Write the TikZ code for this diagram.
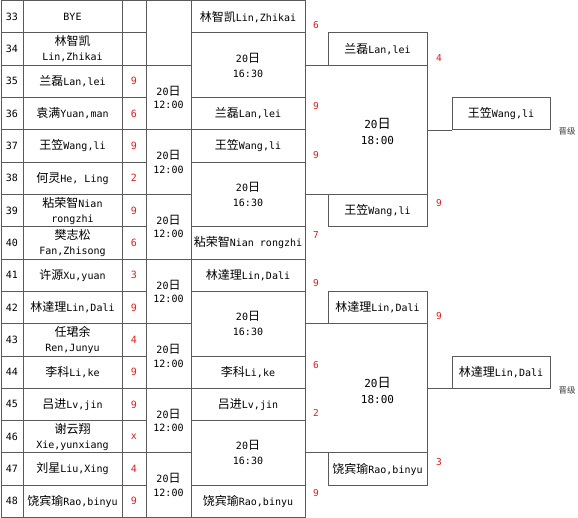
\documentclass[tikz,border=0pt]{standalone}
\usepackage{fontspec}
\setmainfont{DejaVu Sans Mono}
\newfontfamily\cjk[Scale=1.2]{Noto Sans CJK SC}
\definecolor{ln}{RGB}{90,90,90}
\definecolor{sc}{RGB}{220,30,30}
\newcommand{\nm}[2]{{\cjk #1}#2}
\newcommand{\dt}[1]{20{\cjk 日}\\#1}
% cell: name, x1, r1, x2, r2, extra style, text
\newcommand{\rc}[7]{%
  \node[cellbox,#6,minimum width={#4pt-#2pt},minimum height={(#5-#3)*32.3125pt}]
    (#1) at ({(#2+#4)/2},{-0.5-32.3125*(#3+#5)/2}) {#7};}
\tikzset{
  cellbox/.style={draw=ln,line width=0.8pt,inner sep=0pt,align=center,
    font=\fontsize{10}{15}\selectfont},
  datesm/.style={font=\fontsize{10}{13.5}\selectfont},
  scorered/.style={text=sc,inner sep=0pt,font=\fontsize{9.5}{11}\selectfont},
  bigtxt/.style={inner sep=0pt,align=center,font=\fontsize{11}{16}\selectfont},
  promo/.style={inner sep=0pt,text=black!75,font=\fontsize{7}{8}\selectfont},
  conn/.style={draw=ln,line width=0.8pt}
}
\begin{document}
\begin{tikzpicture}[x=1pt,y=1pt]
\useasboundingbox (0,0) rectangle (578,-518);
\fill[white] (0,0) rectangle (578,-518);
% ---- column 0: numbers ----
\rc{n33}{1}{0}{23}{1}{}{33}
\rc{n34}{1}{1}{23}{2}{}{34}
\rc{n35}{1}{2}{23}{3}{}{35}
\rc{n36}{1}{3}{23}{4}{}{36}
\rc{n37}{1}{4}{23}{5}{}{37}
\rc{n38}{1}{5}{23}{6}{}{38}
\rc{n39}{1}{6}{23}{7}{}{39}
\rc{n40}{1}{7}{23}{8}{}{40}
\rc{n41}{1}{8}{23}{9}{}{41}
\rc{n42}{1}{9}{23}{10}{}{42}
\rc{n43}{1}{10}{23}{11}{}{43}
\rc{n44}{1}{11}{23}{12}{}{44}
\rc{n45}{1}{12}{23}{13}{}{45}
\rc{n46}{1}{13}{23}{14}{}{46}
\rc{n47}{1}{14}{23}{15}{}{47}
\rc{n48}{1}{15}{23}{16}{}{48}
% ---- column 1: players ----
\rc{p33}{23}{0}{122}{1}{}{BYE}
\rc{p34}{23}{1}{122}{2}{}{{\cjk 林智凯}\\Lin,Zhikai}
\rc{p35}{23}{2}{122}{3}{}{\nm{兰磊}{Lan,lei}}
\rc{p36}{23}{3}{122}{4}{}{\nm{袁满}{Yuan,man}}
\rc{p37}{23}{4}{122}{5}{}{\nm{王笠}{Wang,li}}
\rc{p38}{23}{5}{122}{6}{}{\nm{何灵}{He, Ling}}
\rc{p39}{23}{6}{122}{7}{}{\nm{粘荣智}{Nian}\\rongzhi}
\rc{p40}{23}{7}{122}{8}{}{{\cjk 樊志松}\\Fan,Zhisong}
\rc{p41}{23}{8}{122}{9}{}{\nm{许源}{Xu,yuan}}
\rc{p42}{23}{9}{122}{10}{}{\nm{林達理}{Lin,Dali}}
\rc{p43}{23}{10}{122}{11}{}{{\cjk 任珺余}\\Ren,Junyu}
\rc{p44}{23}{11}{122}{12}{}{\nm{李科}{Li,ke}}
\rc{p45}{23}{12}{122}{13}{}{\nm{吕进}{Lv,jin}}
\rc{p46}{23}{13}{122}{14}{}{{\cjk 谢云翔}\\Xie,yunxiang}
\rc{p47}{23}{14}{122}{15}{}{\nm{刘星}{Liu,Xing}}
\rc{p48}{23}{15}{122}{16}{}{\nm{饶宾瑜}{Rao,binyu}}
% ---- column 2: first-round scores ----
\rc{s33}{122}{0}{146}{1}{}{}
\rc{s34}{122}{1}{146}{2}{}{}
\rc{s35}{122}{2}{146}{3}{text=sc}{9}
\rc{s36}{122}{3}{146}{4}{text=sc}{6}
\rc{s37}{122}{4}{146}{5}{text=sc}{9}
\rc{s38}{122}{5}{146}{6}{text=sc}{2}
\rc{s39}{122}{6}{146}{7}{text=sc}{9}
\rc{s40}{122}{7}{146}{8}{text=sc}{6}
\rc{s41}{122}{8}{146}{9}{text=sc}{3}
\rc{s42}{122}{9}{146}{10}{text=sc}{9}
\rc{s43}{122}{10}{146}{11}{text=sc}{4}
\rc{s44}{122}{11}{146}{12}{text=sc}{9}
\rc{s45}{122}{12}{146}{13}{text=sc}{9}
\rc{s46}{122}{13}{146}{14}{text=sc}{x}
\rc{s47}{122}{14}{146}{15}{text=sc}{4}
\rc{s48}{122}{15}{146}{16}{text=sc}{9}
% ---- column 3: 12:00 matches ----
\rc{m0}{146}{0}{191}{2}{}{}
\rc{m1}{146}{2}{191}{4}{datesm}{\dt{12:00}}
\rc{m2}{146}{4}{191}{6}{datesm}{\dt{12:00}}
\rc{m3}{146}{6}{191}{8}{datesm}{\dt{12:00}}
\rc{m4}{146}{8}{191}{10}{datesm}{\dt{12:00}}
\rc{m5}{146}{10}{191}{12}{datesm}{\dt{12:00}}
\rc{m6}{146}{12}{191}{14}{datesm}{\dt{12:00}}
\rc{m7}{146}{14}{191}{16}{datesm}{\dt{12:00}}
% ---- column 4: second round ----
\rc{w0}{191}{0}{305}{1}{}{\nm{林智凯}{Lin,Zhikai}}
\rc{q1}{191}{1}{305}{3}{}{\dt{16:30}}
\rc{w3}{191}{3}{305}{4}{}{\nm{兰磊}{Lan,lei}}
\rc{w4}{191}{4}{305}{5}{}{\nm{王笠}{Wang,li}}
\rc{q2}{191}{5}{305}{7}{}{\dt{16:30}}
\rc{w7}{191}{7}{305}{8}{}{\nm{粘荣智}{Nian rongzhi}}
\rc{w8}{191}{8}{305}{9}{}{\nm{林達理}{Lin,Dali}}
\rc{q3}{191}{9}{305}{11}{}{\dt{16:30}}
\rc{w11}{191}{11}{305}{12}{}{\nm{李科}{Li,ke}}
\rc{w12}{191}{12}{305}{13}{}{\nm{吕进}{Lv,jin}}
\rc{q4}{191}{13}{305}{15}{}{\dt{16:30}}
\rc{w15}{191}{15}{305}{16}{}{\nm{饶宾瑜}{Rao,binyu}}
% ---- second-round scores ----
\node[scorered] (t1) at (316,-25) {6};
\node[scorered] (t2) at (316,-106) {9};
\node[scorered] (t3) at (316,-155) {9};
\node[scorered] (t4) at (316,-235) {7};
\node[scorered] (t5) at (316,-283) {9};
\node[scorered] (t6) at (316,-365) {6};
\node[scorered] (t7) at (316,-413) {2};
\node[scorered] (t8) at (316,-493) {9};
% ---- semi-final blocks ----
\rc{a1}{328}{1}{427}{2}{}{\nm{兰磊}{Lan,lei}}
\rc{b1}{305}{2}{427}{6}{}{}
\rc{c1}{328}{6}{427}{7}{}{\nm{王笠}{Wang,li}}
\node[bigtxt] (b1t) at (377.5,-131) {\dt{18:00}};
\rc{a2}{328}{9}{427}{10}{}{\nm{林達理}{Lin,Dali}}
\rc{b2}{305}{10}{427}{14}{}{}
\rc{c2}{328}{14}{427}{15}{}{\nm{饶宾瑜}{Rao,binyu}}
\node[bigtxt] (b2t) at (377.5,-390) {\dt{18:00}};
\node[scorered] (u1) at (439,-58) {4};
\node[scorered] (u2) at (439,-203) {9};
\node[scorered] (u3) at (439,-316) {9};
\node[scorered] (u4) at (439,-462) {3};
% ---- winners ----
\rc{f1}{452}{3}{550}{4}{}{\nm{王笠}{Wang,li}}
\rc{f2}{452}{11}{550}{12}{}{\nm{林達理}{Lin,Dali}}
\draw[conn] (b1.east |- f1.south west) -- (f1.south west);
\draw[conn] (b2.east |- f2.south west) -- (f2.south west);
\node[promo] (g1) at (567,-131) {\cjk 晋级};
\node[promo] (g2) at (567,-390) {\cjk 晋级};
\end{tikzpicture}
\end{document}
